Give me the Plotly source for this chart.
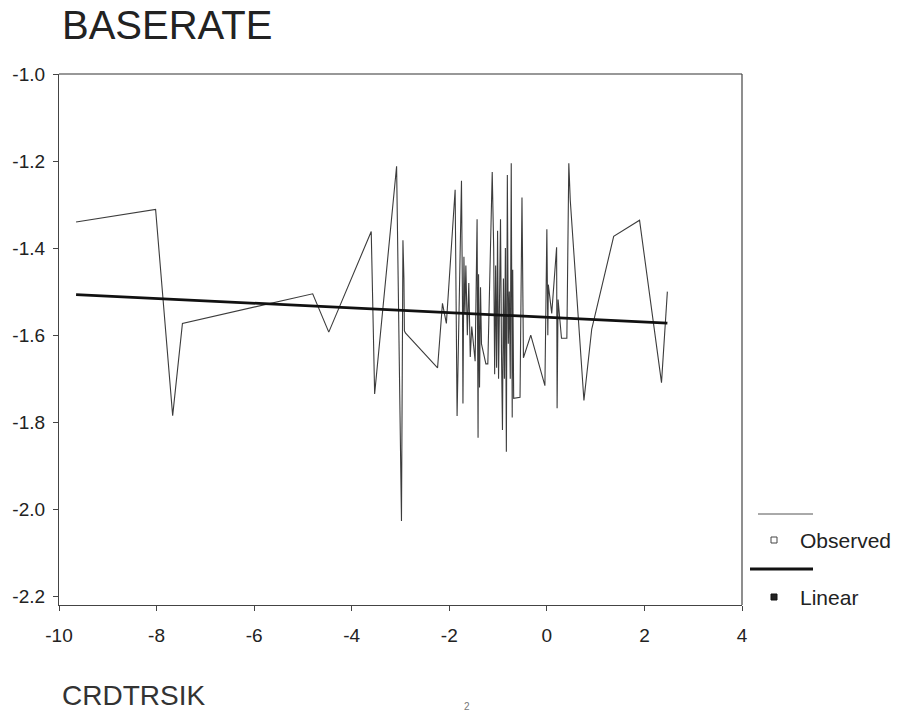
import plotly.graph_objects as go

# ---- data ----
crdtrsik = [-9.65, -8.02, -7.67, -7.47, -4.80, -4.47, -3.60, -3.53, -3.08, -2.98,
            -2.95, -2.93, -2.92, -2.90, -2.24, -2.14, -2.06, -1.88, -1.84, -1.78,
            -1.75, -1.73, -1.72, -1.70, -1.68, -1.66, -1.63, -1.60, -1.57, -1.54,
            -1.47, -1.43, -1.41, -1.40, -1.38, -1.36, -1.34, -1.25, -1.21, -1.12,
            -1.09, -1.07, -1.05, -1.03, -1.01, -0.99, -0.97, -0.95, -0.93, -0.91,
            -0.89, -0.87, -0.85, -0.83, -0.81, -0.79, -0.77, -0.75, -0.73, -0.71,
            -0.70, -0.68, -0.55, -0.51, -0.48, -0.33, -0.04, 0.00, 0.02, 0.03,
            0.10, 0.17, 0.20, 0.21, 0.23, 0.30, 0.41, 0.45, 0.48, 0.76,
            0.92, 1.37, 1.90, 2.35, 2.47]
baserate = [-1.340, -1.311, -1.785, -1.573, -1.505, -1.593, -1.362, -1.735, -1.212, -2.027,
            -1.382, -1.470, -1.590, -1.595, -1.675, -1.527, -1.573, -1.266, -1.786, -1.430,
            -1.245, -1.520, -1.757, -1.420, -1.550, -1.440, -1.600, -1.480, -1.650, -1.580,
            -1.660, -1.334, -1.836, -1.460, -1.720, -1.490, -1.620, -1.666, -1.666, -1.225,
            -1.400, -1.690, -1.440, -1.675, -1.360, -1.700, -1.500, -1.334, -1.640, -1.818,
            -1.470, -1.700, -1.400, -1.868, -1.232, -1.620, -1.500, -1.700, -1.205, -1.789,
            -1.450, -1.745, -1.743, -1.284, -1.652, -1.600, -1.716, -1.357, -1.600, -1.484,
            -1.550, -1.430, -1.398, -1.768, -1.518, -1.607, -1.607, -1.205, -1.290, -1.750,
            -1.586, -1.373, -1.336, -1.709, -1.500]
linear_b0 = -1.559
linear_b1 = -0.0054
x_ticks = [-10, -8, -6, -4, -2, 0, 2, 4]
y_ticks = [-1.0, -1.2, -1.4, -1.6, -1.8, -2.0, -2.2]
title_text = "BASERATE"
xlabel_text = "CRDTRSIK"
legend_names = ["Observed", "Linear"]
page_number = "2"

linear_y = [linear_b0 + linear_b1 * v for v in crdtrsik]

W, H = 916, 714
L, R, T, B = 59, 742, 74, 605
FONT = "Liberation Sans, Arial, sans-serif"


def px(x):
    return (x - L) / (R - L)


def py(y):
    return (B - y) / (B - T)


fig = go.Figure()
fig.add_trace(go.Scatter(x=crdtrsik, y=baserate, mode="lines",
                         line=dict(color="#3c3c3c", width=1.1),
                         name=legend_names[0], showlegend=False))
fig.add_trace(go.Scatter(x=crdtrsik, y=linear_y, mode="lines",
                         line=dict(color="#111111", width=2.8),
                         name=legend_names[1], showlegend=False))

axis_common = dict(showgrid=False, zeroline=False, showline=True, linecolor="#444",
                   linewidth=1.2, ticks="outside", ticklen=5, tickcolor="#444",
                   tickfont=dict(family=FONT, size=19, color="#222"), mirror=False)
fig.update_xaxes(range=[-10, 4], tickvals=x_ticks, ticktext=[str(v) for v in x_ticks],
                 ticklabelstandoff=8, **axis_common)
fig.update_yaxes(range=[-2.22, -1.0], tickvals=y_ticks, ticktext=[f"{v:.1f}" for v in y_ticks],
                 ticklabelstandoff=4, **axis_common)

shapes = [
    # top and right frame
    dict(type="line", xref="paper", yref="paper", x0=0, x1=1, y0=1, y1=1,
         line=dict(color="#333", width=1.2)),
    dict(type="line", xref="paper", yref="paper", x0=1, x1=1, y0=0, y1=1,
         line=dict(color="#444", width=1.2)),
    # legend line samples
    dict(type="line", xref="paper", yref="paper", x0=px(758), x1=px(813), y0=py(514), y1=py(514),
         line=dict(color="#555", width=1)),
    dict(type="line", xref="paper", yref="paper", x0=px(750), x1=px(813), y0=py(569), y1=py(569),
         line=dict(color="#111", width=2.8)),
    # legend markers
    dict(type="rect", xref="paper", yref="paper", x0=px(771), x1=px(777), y0=py(537), y1=py(543),
         line=dict(color="#444", width=1), fillcolor="white"),
    dict(type="rect", xref="paper", yref="paper", x0=px(771), x1=px(777), y0=py(594), y1=py(600),
         line=dict(color="#111", width=1), fillcolor="#222"),
]

annotations = [
    dict(text=title_text, xref="paper", yref="paper", x=px(60), y=py(25), xanchor="left",
         yanchor="middle", showarrow=False, font=dict(family=FONT, size=40, color="#222")),
    dict(text=xlabel_text, xref="paper", yref="paper", x=px(60), y=py(695), xanchor="left",
         yanchor="middle", showarrow=False, font=dict(family=FONT, size=28, color="#333")),
    dict(text=legend_names[0], xref="paper", yref="paper", x=px(798), y=py(540), xanchor="left",
         yanchor="middle", showarrow=False, font=dict(family=FONT, size=21, color="#222")),
    dict(text=legend_names[1], xref="paper", yref="paper", x=px(798), y=py(597), xanchor="left",
         yanchor="middle", showarrow=False, font=dict(family=FONT, size=21, color="#222")),
    dict(text=page_number, xref="paper", yref="paper", x=px(467), y=py(706), xanchor="center",
         yanchor="middle", showarrow=False, font=dict(family=FONT, size=10, color="#777")),
]

fig.update_layout(width=W, height=H, margin=dict(l=L, r=W - R, t=T, b=H - B),
                  paper_bgcolor="white", plot_bgcolor="white",
                  shapes=shapes, annotations=annotations, showlegend=False)

# remove the browser's default page margin so the figure fills the window exactly
fig.write_html("out.html", config={"displayModeBar": False},
               post_script="document.body.style.margin='0';document.body.style.overflow='hidden';")
